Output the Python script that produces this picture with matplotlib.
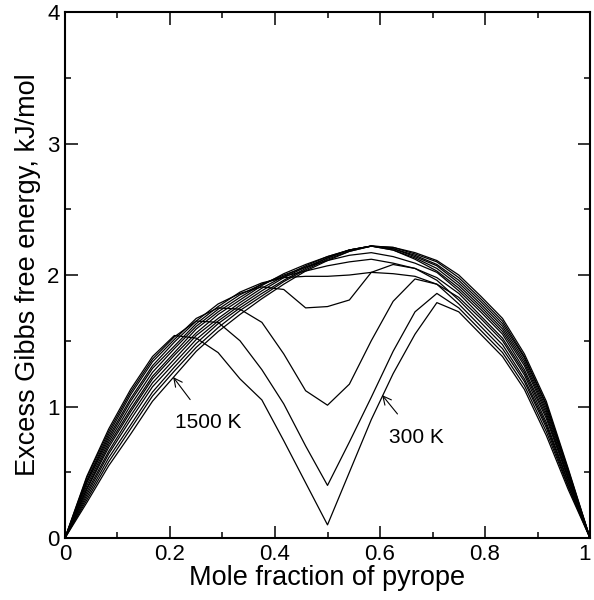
import matplotlib
matplotlib.use("Agg")
import matplotlib.pyplot as plt
import matplotlib.transforms as mtransforms
from matplotlib.ticker import MultipleLocator, FixedLocator

plt.rcParams['font.family'] = ['Liberation Sans', 'DejaVu Sans']

# composition grid, 24 steps
x_frac = [k / 24 for k in range(25)]

temps = [300, 400, 500, 600, 700, 800, 900, 1000, 1100, 1200, 1300, 1400, 1500]

g300 = [0, .47, .83, 1.13, 1.38, 1.54, 1.52, 1.41, 1.21, 1.05, .74, .42, .10,
        .50, .90, 1.25, 1.55, 1.79, 1.72, 1.55, 1.38, 1.13, .78, .37, 0]
g400 = [0, .46, .81, 1.11, 1.36, 1.53, 1.65, 1.64, 1.50, 1.28, 1.02, .70, .40,
        .73, 1.07, 1.42, 1.72, 1.86, 1.75, 1.58, 1.41, 1.16, .81, .39, 0]
g500 = [0, .44, .79, 1.09, 1.34, 1.51, 1.67, 1.75, 1.74, 1.64, 1.40, 1.12, 1.01,
        1.17, 1.50, 1.80, 1.97, 1.93, 1.78, 1.61, 1.44, 1.19, .84, .40, 0]
g600 = [0, .43, .77, 1.06, 1.31, 1.49, 1.65, 1.78, 1.86, 1.91, 1.89, 1.75, 1.76,
        1.81, 2.02, 2.08, 2.05, 1.96, 1.81, 1.64, 1.47, 1.21, .86, .42, 0]
g700 = [0, .42, .75, 1.04, 1.29, 1.46, 1.63, 1.76, 1.87, 1.94, 1.98, 1.99, 1.99,
        2.00, 2.02, 2.01, 1.99, 1.93, 1.83, 1.67, 1.50, 1.24, .88, .43, 0]
g800 = [0, .40, .73, 1.01, 1.26, 1.44, 1.61, 1.74, 1.85, 1.93, 1.99, 2.03, 2.07,
        2.10, 2.12, 2.09, 2.05, 1.98, 1.86, 1.69, 1.52, 1.26, .91, .45, 0]
g900 = [0, .38, .71, .98, 1.23, 1.41, 1.59, 1.72, 1.83, 1.93, 2.00, 2.06, 2.11,
        2.15, 2.17, 2.14, 2.09, 2.02, 1.88, 1.72, 1.55, 1.28, .93, .46, 0]
g1000 = [0, .37, .69, .96, 1.21, 1.39, 1.56, 1.70, 1.81, 1.92, 2.01, 2.08, 2.14,
         2.19, 2.22, 2.19, 2.12, 2.03, 1.90, 1.74, 1.57, 1.31, .95, .47, 0]
g1100 = [0, .35, .66, .93, 1.18, 1.36, 1.54, 1.67, 1.79, 1.90, 1.99, 2.07, 2.14,
         2.19, 2.22, 2.19, 2.13, 2.05, 1.92, 1.76, 1.59, 1.33, .97, .49, 0]
g1200 = [0, .33, .64, .90, 1.15, 1.33, 1.51, 1.65, 1.77, 1.88, 1.98, 2.06, 2.13,
         2.19, 2.22, 2.20, 2.14, 2.07, 1.94, 1.78, 1.61, 1.35, .99, .50, 0]
g1300 = [0, .31, .61, .86, 1.11, 1.30, 1.48, 1.63, 1.75, 1.86, 1.96, 2.05, 2.13,
         2.19, 2.22, 2.20, 2.15, 2.08, 1.96, 1.80, 1.63, 1.37, 1.01, .51, 0]
g1400 = [0, .29, .58, .83, 1.08, 1.27, 1.45, 1.60, 1.73, 1.84, 1.95, 2.04, 2.12,
         2.18, 2.22, 2.21, 2.16, 2.10, 1.98, 1.82, 1.65, 1.38, 1.02, .52, 0]
g1500 = [0, .27, .55, .79, 1.04, 1.23, 1.42, 1.57, 1.70, 1.82, 1.93, 2.03, 2.11,
         2.18, 2.22, 2.21, 2.17, 2.11, 2.00, 1.84, 1.67, 1.40, 1.04, .53, 0]

curves = [g300, g400, g500, g600, g700, g800, g900, g1000, g1100, g1200,
          g1300, g1400, g1500]

fig = plt.figure(figsize=(5.94, 6.0), dpi=100)
ax = fig.add_axes([0.1094, 0.1033, 0.8839, 0.8767])

for t, g in zip(temps, curves):
    ax.plot(x_frac, g, color='black', lw=0.9)

# labels with arrows
ax.annotate('1500 K', xy=(0.206, 1.224), xytext=(0.272, 0.875),
            ha='center', va='center', fontsize=15,
            arrowprops=dict(arrowstyle='->', lw=0.8, color='black',
                            shrinkA=10, shrinkB=0))
ax.annotate('300 K', xy=(0.604, 1.087), xytext=(0.669, 0.768),
            ha='center', va='center', fontsize=15,
            arrowprops=dict(arrowstyle='->', lw=0.8, color='black',
                            shrinkA=10, shrinkB=0))

ax.set_xlim(0, 1)
ax.set_ylim(0, 4)
ax.xaxis.set_major_locator(FixedLocator([0, 0.2, 0.4, 0.6, 0.8, 1.0]))
ax.set_xticklabels(['0', '0.2', '0.4', '0.6', '0.8', '1'])
ax.xaxis.set_minor_locator(MultipleLocator(0.1))
ax.yaxis.set_major_locator(MultipleLocator(1))
ax.yaxis.set_minor_locator(MultipleLocator(0.5))
ax.tick_params(which='both', direction='in', top=True, right=True,
               labelsize=16, width=1.1, pad=4)
ax.tick_params(which='major', length=9)
ax.tick_params(which='minor', length=4.5)
for s in ax.spines.values():
    s.set_linewidth(1.5)

# nudge the last x label so it stays inside the figure
last = ax.get_xticklabels()[-1]
last.set_transform(last.get_transform() +
                   mtransforms.ScaledTranslation(-4 / 72, 0, fig.dpi_scale_trans))

ax.set_xlabel('Mole fraction of pyrope', fontsize=19.5, labelpad=0)
ax.set_ylabel('Excess Gibbs free energy, kJ/mol', fontsize=19.5, labelpad=4)

fig.savefig('out.png', dpi=100)
